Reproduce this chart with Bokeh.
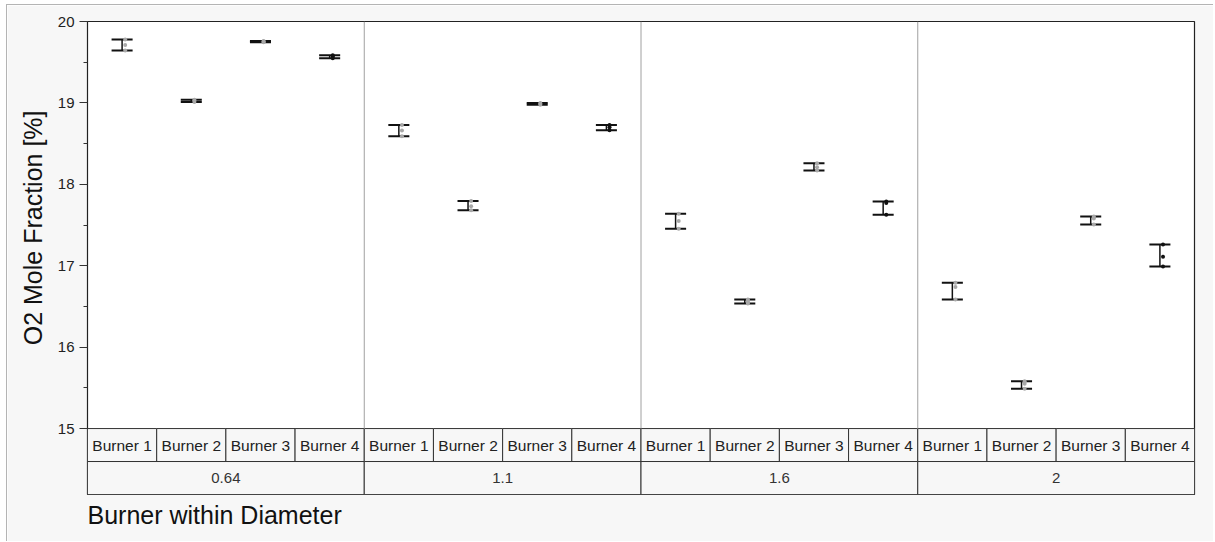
from bokeh.plotting import figure
from bokeh.models import Range1d, FixedTicker, Title
from bokeh.core.properties import value
from bokeh.embed import file_html
from bokeh.resources import INLINE
import numpy as np

# Variability chart: O2 mole fraction, burner nested within diameter
diameters = ["0.64", "1.1", "1.6", "2"]
burners = ["Burner 1", "Burner 2", "Burner 3", "Burner 4"]

# three observations per burner, one list per diameter
o2_d064 = [[19.78, 19.71, 19.645], [19.04, 19.025, 19.01], [19.76, 19.755, 19.745], [19.585, 19.57, 19.55]]
o2_d110 = [[18.73, 18.66, 18.59], [17.795, 17.73, 17.68], [19.0, 18.99, 18.978], [18.73, 18.70, 18.665]]
o2_d160 = [[17.64, 17.55, 17.455], [16.585, 16.56, 16.535], [18.26, 18.21, 18.17], [17.79, 17.77, 17.625]]
o2_d200 = [[16.79, 16.74, 16.585], [15.58, 15.55, 15.49], [17.605, 17.58, 17.505], [17.26, 17.11, 16.99]]
o2_all = [o2_d064, o2_d110, o2_d160, o2_d200]

y_ticks = [15, 16, 17, 18, 19, 20]
y_minor = [15.5, 16.5, 17.5, 18.5, 19.5]

FONT = "Liberation Sans"
BG = "#f7f7f7"
ROW_H = 33 / 81.47          # height of one header row, in axis units
y_low = 15 - 2 * ROW_H

n_b = len(burners)
n_cells = len(diameters) * n_b

p = figure(width=1207, height=537, output_backend="svg", toolbar_location=None,
           x_range=Range1d(0, n_cells), y_range=Range1d(y_low, 20),
           min_border_left=80, min_border_right=20, min_border_top=16, min_border_bottom=48,
           margin=(4, 0, 0, 6),
           styles={"border-left": "1px solid #b4b4b4", "border-top": "1px solid #b4b4b4"})
p.background_fill_color = "white"
p.border_fill_color = BG
p.outline_line_color = "#222222"
p.outline_line_width = 1.2
p.grid.visible = False
p.xaxis.visible = False

ya = p.yaxis[0]
ya.ticker = FixedTicker(ticks=y_ticks, minor_ticks=y_minor)
ya.axis_line_color = None
ya.major_tick_in = 0
ya.major_tick_out = 8
ya.minor_tick_in = 0
ya.minor_tick_out = 4
ya.major_tick_line_color = "#333333"
ya.minor_tick_line_color = "#333333"
ya.major_label_text_font = FONT
ya.major_label_text_font_size = "15px"
ya.major_label_text_color = "#222222"
ya.major_label_standoff = 5

# header rows below the plotting area
cell_l = np.arange(n_cells)
p.quad(left=cell_l, right=cell_l + 1, bottom=15 - ROW_H, top=15,
       fill_color=BG, line_color="#333333", line_width=1)
d_l = np.arange(len(diameters)) * n_b
p.quad(left=d_l, right=d_l + n_b, bottom=y_low, top=15 - ROW_H,
       fill_color=BG, line_color="#333333", line_width=1)
p.text(x=cell_l + 0.5, y=15 - ROW_H / 2, text=burners * len(diameters),
       text_align="center", text_baseline="middle",
       text_font=value(FONT), text_font_size="15.5px", text_color="#222222")
p.text(x=d_l + n_b / 2, y=15 - 1.5 * ROW_H, text=diameters,
       text_align="center", text_baseline="middle",
       text_font=value(FONT), text_font_size="15px", text_color="#333333")

# separators between diameter groups
sep = np.arange(1, len(diameters)) * n_b
p.segment(x0=sep, y0=15, x1=sep, y1=20, line_color="#a0a0a0", line_width=1)

# range bars (min to max) and the observations
xc, lo, hi, px, py, pc = [], [], [], [], [], []
for d, groups in enumerate(o2_all):
    for b, obs in enumerate(groups):
        c = d * n_b + b + 0.5
        xc.append(c)
        lo.append(min(obs))
        hi.append(max(obs))
        for v in obs:
            px.append(c + 0.045)
            py.append(v)
            pc.append("#111111" if b == 3 else "#a8a8a8")
xc = np.array(xc)
cap = 0.152
p.segment(x0=xc, y0=lo, x1=xc, y1=hi, line_color="#111111", line_width=1.5)
p.segment(x0=xc - cap, y0=lo, x1=xc + cap, y1=lo, line_color="#111111", line_width=2)
p.segment(x0=xc - cap, y0=hi, x1=xc + cap, y1=hi, line_color="#111111", line_width=2)
p.scatter(x=px, y=py, size=4, fill_color=pc, line_color=None)

p.add_layout(Title(text="O2 Mole Fraction [%]", align="right", offset=89,
                   text_font=FONT, text_font_size="25px", text_font_style="normal",
                   text_color="#111111", standoff=16), "left")
p.add_layout(Title(text="Burner within Diameter", align="left", offset=0,
                   text_font=FONT, text_font_size="25px", text_font_style="normal",
                   text_color="#111111", standoff=8), "below")

open("out.html", "w").write(file_html(p, INLINE))
